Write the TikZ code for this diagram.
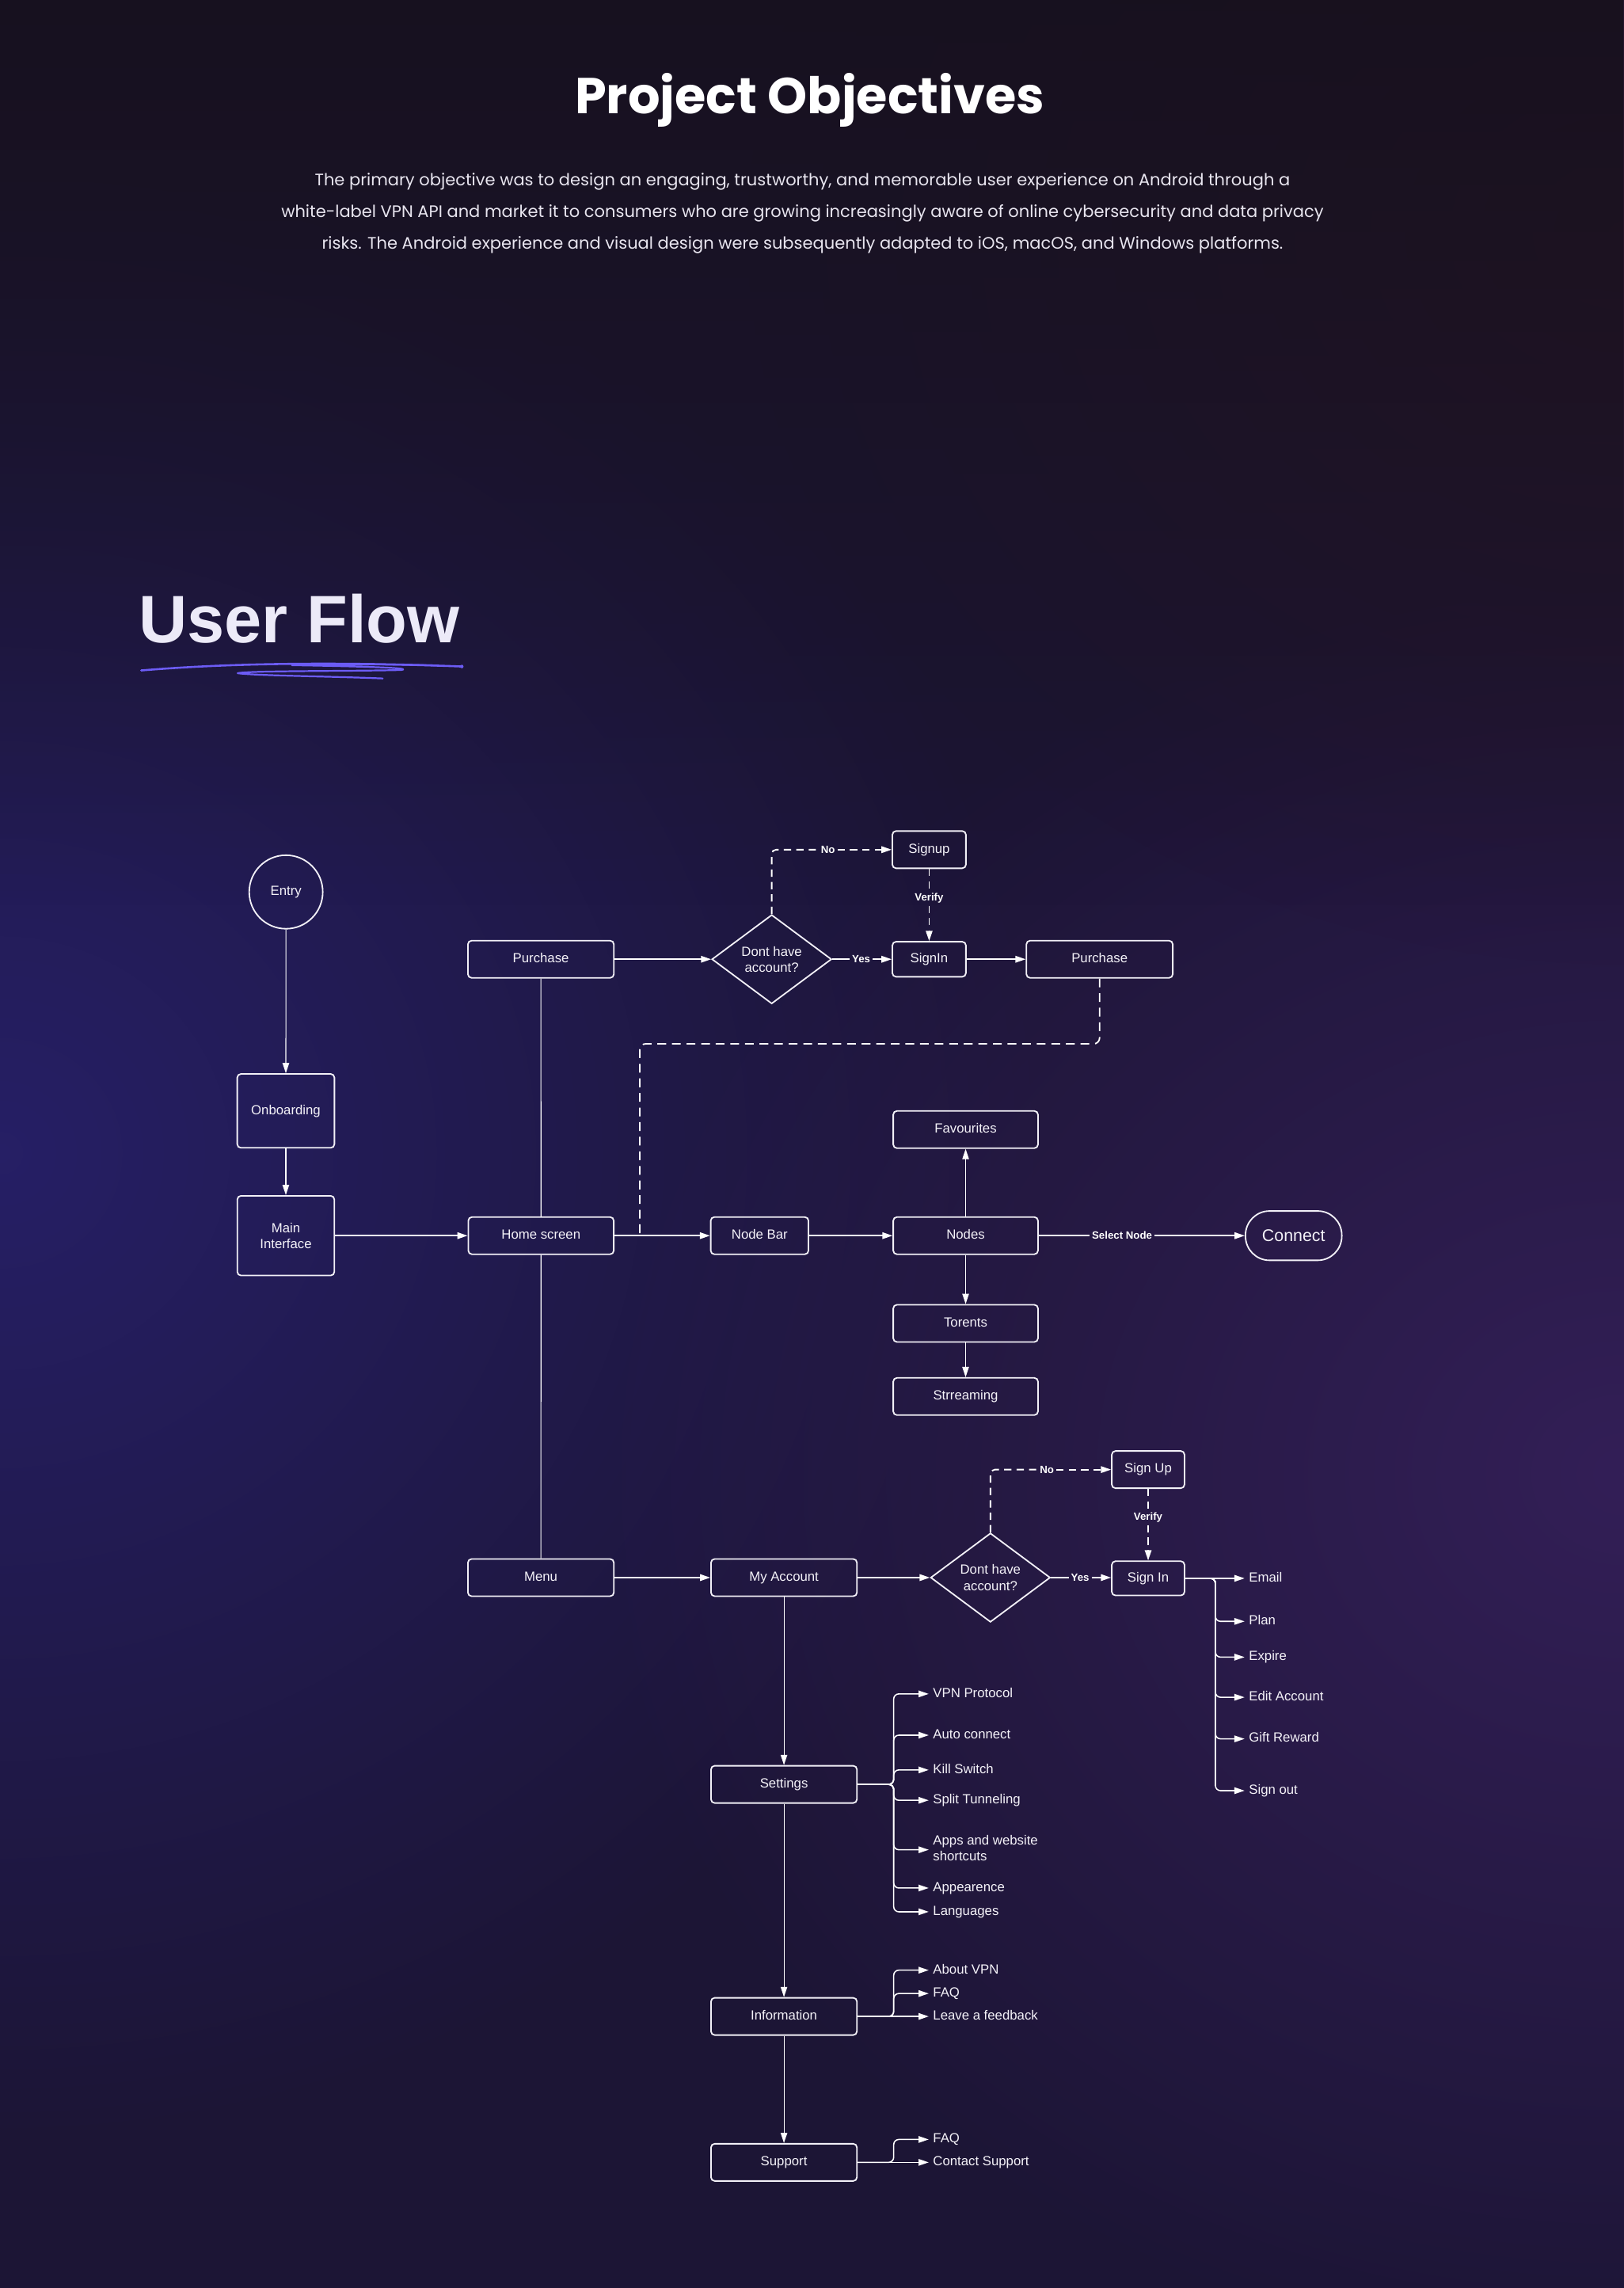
\documentclass[tikz,border=0pt]{standalone}
\usepackage{fontspec}
\setmainfont{Liberation Sans}
\newfontfamily\popfont{Poppins}
\usetikzlibrary{arrows.meta,shapes.geometric,fadings}

\definecolor{bgbase}{HTML}{1C1535}
\definecolor{topdark}{HTML}{17111D}
\definecolor{glowblue}{HTML}{28216E}
\definecolor{glowpurple}{HTML}{331F57}
\definecolor{glowred}{HTML}{2A1526}
\definecolor{boxline}{HTML}{F2F0F7}
\definecolor{txt}{HTML}{F4F2F8}
\definecolor{partxt}{HTML}{E8E5EF}
\definecolor{uftxt}{HTML}{ECEAF8}
\definecolor{scribcol}{HTML}{6C5CF5}

\newcommand\boxfont{\fontsize{9.1}{11}\selectfont}
\newcommand\itemfont{\fontsize{9.1}{10.8}\selectfont}
\newcommand\labfont{\bfseries\fontsize{7.2}{8}\selectfont}

\tikzfading[name=softglow, inner color=transparent!0, outer color=transparent!100]
\tikzfading[name=fadedown, top color=transparent!0, bottom color=transparent!100]

\tikzset{
  box/.style={draw=boxline, line width=1pt, rounded corners=2.5pt, inner sep=0pt,
    text=txt, font=\boxfont, align=center, text height=6.6pt, text depth=1.9pt},
  dec/.style={diamond, draw=boxline, line width=1pt, inner sep=0pt, aspect=1.34,
    minimum width=82pt, minimum height=61pt, text=txt, font=\boxfont, align=center},
  tip/.style={-{Triangle[length=7pt,width=4.5pt]}},
  conn/.style={draw=white, line width=1pt, tip},
  thinconn/.style={draw=white, line width=0.6pt, tip},
  plain/.style={draw=white, line width=1pt},
  thinplain/.style={draw=white, line width=0.6pt},
  branch/.style={draw=white, line width=0.85pt, rounded corners=3.5pt, tip},
  dashA/.style={draw=white, line width=1pt, dash pattern=on 5pt off 3.5pt},
  dashB/.style={draw=white, line width=1pt, dash pattern=on 6pt off 4pt},
  elabel/.style={font=\labfont, text=white, inner sep=1.5pt},
  item/.style={anchor=west, font=\itemfont, text=txt, inner xsep=2.8pt, inner ysep=0pt,
    align=left, text height=6.6pt, text depth=1.9pt},
  scrib/.style={draw=scribcol, line width=1.4pt, line cap=round, line join=round},
  para/.style={anchor=base, inner sep=0, font=\popfont\fontsize{11.4}{14}\selectfont, text=partxt},
}

\begin{document}
\begin{tikzpicture}[x=1pt,y=-1pt]
% ---------- background ----------
\useasboundingbox (0,0) rectangle (1113,1567.8);
\fill[bgbase] (0,0) rectangle (1113,1567.8);
\fill[glowblue, path fading=softglow, opacity=0.85] (0,790) ellipse (720 and 680);
\fill[glowpurple, path fading=softglow] (1113,1010) ellipse (720 and 620);
\fill[glowred, path fading=softglow, opacity=0.8] (1113,160) ellipse (600 and 500);
\fill[topdark, path fading=fadedown, opacity=0.9] (0,0) rectangle (1113,620);

% ---------- header ----------
\node[anchor=base, inner sep=0, font=\popfont\bfseries\fontsize{34.6}{40}\selectfont, text=white] (title) at (555,77.8) {Project Objectives};
\node[para] (p1) at (550,127) {The primary objective was to design an engaging, trustworthy, and memorable user experience on Android through a};
\node[para] (p2) at (550,149.2) {white-label VPN API and market it to consumers who are growing increasingly aware of online cybersecurity and data privacy};
\node[para] (p3) at (550,170.8) {risks. The Android experience and visual design were subsequently adapted to iOS, macOS, and Windows platforms.};

\node[anchor=base west, inner sep=0, font=\bfseries\fontsize{46}{50}\selectfont, text=uftxt] (uf) at (95,440.5) {User Flow};
\draw[scrib] (96.8,459.4) .. controls (150,455) and (220,453) .. (316.5,456.7);
\fill[scribcol] (316.5,456.7) circle (1.2);
\draw[scrib, line width=1.2pt] (300,456) .. controls (270,455.2) and (230,455) .. (200,455.8)
  .. controls (240,456.5) and (285,457.5) .. (275,459.1)
  .. controls (240,460) and (170,459.5) .. (162.8,461.3)
  .. controls (175,463) and (230,463.5) .. (262.3,464.9);

% ---------- upper flow ----------
\node[circle, draw=boxline, line width=1pt, minimum size=50.4pt, inner sep=0, font=\boxfont, text=txt] (entry) at (196,611.2) {Entry};
\node[box, minimum width=66.6pt, minimum height=50.6pt] (onb) at (195.9,761.2) {Onboarding};
\node[box, minimum width=66.5pt, minimum height=54.6pt, text height=, text depth=] (main) at (195.9,846.7) {Main\\Interface};

\node[box, minimum width=100pt, minimum height=25.5pt] (purch1) at (370.7,657.3) {Purchase};
\node[dec] (d1) at (528.9,657.3) {Dont have\\account?};
\node[box, minimum width=50.4pt, minimum height=24pt] (signin1) at (636.8,657.3) {SignIn};
\node[box, minimum width=50.4pt, minimum height=25.5pt] (signup1) at (636.8,582.2) {Signup};
\node[box, minimum width=100.3pt, minimum height=25.5pt] (purch2) at (753.6,657.3) {Purchase};

\node[elabel] (yes1) at (590.2,657.3) {Yes};
\node[elabel] (no1) at (567.5,582.2) {No};
\node[elabel] (verify1) at (636.8,615.5) {Verify};

\node[box, minimum width=99.7pt, minimum height=25.5pt] (home) at (370.8,846.7) {Home screen};
\node[box, minimum width=67pt, minimum height=25.5pt] (nodebar) at (520.6,846.7) {Node Bar};
\node[box, minimum width=99.2pt, minimum height=25.5pt] (nodes) at (661.8,846.7) {Nodes};
\node[box, minimum width=99.2pt, minimum height=25.5pt] (fav) at (661.8,774) {Favourites};
\node[box, minimum width=99.2pt, minimum height=25.5pt] (tor) at (661.8,906.8) {Torents};
\node[box, minimum width=99.2pt, minimum height=25.5pt] (str) at (661.8,956.9) {Strreaming};
\node[draw=boxline, line width=1pt, rounded corners=16.5pt, minimum width=66pt, minimum height=33.8pt, inner sep=0, font=\fontsize{11.6}{13}\selectfont, text=txt] (connect) at (886.6,846.7) {Connect};
\node[elabel] (selnode) at (769,846.7) {Select Node};
\coordinate (j1) at (438.5,846.7);

\draw[thinconn] (entry) -- (onb);
\draw[thinconn] (onb) -- (main);
\draw[conn] (main) -- (home);
\draw[thinplain] (purch1) -- (home);
\draw[conn] (purch1) -- (d1);
\draw[plain] (d1) -- (yes1);
\draw[conn] (yes1) -- (signin1);
\draw[dashA, rounded corners=3pt] (d1.north) |- (no1.west);
\draw[dashA, tip] (no1.east) -- (signup1.west);
\draw[dashA] (signup1.south) -- (verify1.north);
\draw[dashA, tip] (verify1.south) -- (signin1.north);
\draw[conn] (signin1) -- (purch2);
\draw[dashB, rounded corners=4pt] (purch2.south) -- ++(0,44.7) -| (j1);
\draw[conn] (home) -- (nodebar);
\draw[conn] (nodebar) -- (nodes);
\draw[thinconn] (nodes) -- (fav);
\draw[thinconn] (nodes) -- (tor);
\draw[thinconn] (tor) -- (str);
\draw[plain] (nodes) -- (selnode);
\draw[conn] (selnode) -- (connect);

% ---------- lower flow ----------
\node[box, minimum width=100pt, minimum height=25.5pt] (menu) at (370.7,1081) {Menu};
\node[box, minimum width=100pt, minimum height=25.5pt] (myacc) at (537.3,1081) {My Account};
\node[dec] (d2) at (678.8,1081) {Dont have\\account?};
\node[box, minimum width=49.8pt, minimum height=23.5pt] (signin2) at (786.9,1081.5) {Sign In};
\node[box, minimum width=49.8pt, minimum height=25.5pt] (signup2) at (786.9,1007) {Sign Up};
\node[elabel] (yes2) at (740.3,1081) {Yes};
\node[elabel] (no2) at (717.5,1007) {No};
\node[elabel] (verify2) at (786.9,1040) {Verify};

\node[box, minimum width=100pt, minimum height=25.5pt] (settings) at (537.3,1222.7) {Settings};
\node[box, minimum width=100pt, minimum height=25.5pt] (info) at (537.3,1381.7) {Information};
\node[box, minimum width=100pt, minimum height=25.5pt] (support) at (537.3,1481.7) {Support};

\draw[thinplain] (home) -- (menu);
\draw[conn] (menu) -- (myacc);
\draw[conn] (myacc) -- (d2);
\draw[plain] (d2) -- (yes2);
\draw[conn] (yes2) -- (signin2.west |- yes2);
\draw[dashA, rounded corners=3pt] (d2.north) |- (no2.west);
\draw[dashA, tip] (no2.east) -- (signup2.west);
\draw[dashA] (signup2.south) -- (verify2.north);
\draw[dashA, tip] (verify2.south) -- (signin2.north);
\draw[thinconn] (myacc) -- (settings);
\draw[thinconn] (settings) -- (info);
\draw[thinconn] (info) -- (support);

% Sign In list
\coordinate (bus2) at (833,1081.5);
\node[item] (email) at (853,1081.5) {Email};
\node[item] (plan) at (853,1111) {Plan};
\node[item] (expire) at (853,1135.5) {Expire};
\node[item] (edit) at (853,1163) {Edit Account};
\node[item] (gift) at (853,1191.5) {Gift Reward};
\node[item] (signout) at (853,1227) {Sign out};
\draw[branch] (signin2.east) -- (email.west);
\foreach \t in {plan,expire,edit,gift,signout}
  \draw[branch] (signin2.east) -- (bus2) |- (\t.west);

% Settings list
\coordinate (bus1) at (612.5,1222.7);
\node[item] (vpn) at (636.5,1160.7) {VPN Protocol};
\node[item] (auto) at (636.5,1189) {Auto connect};
\node[item] (kill) at (636.5,1212.8) {Kill Switch};
\node[item] (split) at (636.5,1233.6) {Split Tunneling};
\node[item, text height=, text depth=] (apps) at (636.5,1266.5) {Apps and website\\shortcuts};
\node[item] (appear) at (636.5,1293.7) {Appearence};
\node[item] (lang) at (636.5,1310) {Languages};
\foreach \t in {vpn,auto,kill,split,appear,lang}
  \draw[branch] (settings.east) -- (bus1) |- (\t.west);
\draw[branch] (settings.east) -- (bus1) |- (apps.west |- 0,1267.5);

% Information list
\coordinate (bus3) at (612.5,1381.7);
\node[item] (about) at (636.5,1350) {About VPN};
\node[item] (faq1) at (636.5,1366) {FAQ};
\node[item] (leave) at (636.5,1381.7) {Leave a feedback};
\draw[branch] (info.east) -- (leave.west);
\draw[branch] (info.east) -- (bus3) |- (about.west);
\draw[branch] (info.east) -- (bus3) |- (faq1.west);

% Support list
\coordinate (bus4) at (612.5,1481.7);
\node[item] (faq2) at (636.5,1466) {FAQ};
\node[item] (contact) at (636.5,1481.7) {Contact Support};
\draw[branch] (support.east) -- (contact.west);
\draw[branch] (support.east) -- (bus4) |- (faq2.west);
\end{tikzpicture}
\end{document}
